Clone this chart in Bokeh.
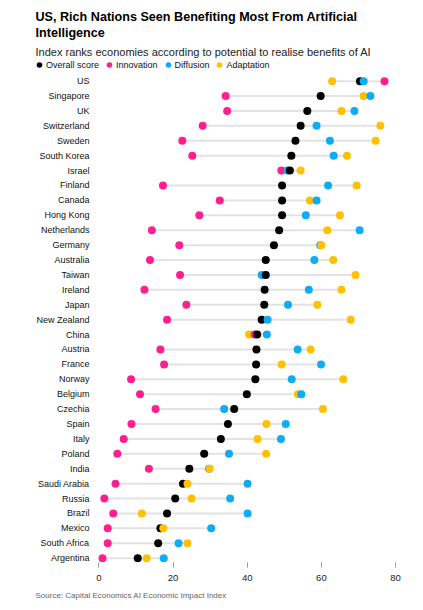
from bokeh.plotting import figure
from bokeh.models import (ColumnDataSource, Range1d, FixedTicker, Legend,
                          LegendItem, Title, Label)
from bokeh.embed import file_html
from bokeh.resources import INLINE

# data (economies sorted by overall score)
countries = ["US", "Singapore", "UK", "Switzerland", "Sweden", "South Korea",
             "Israel", "Finland", "Canada", "Hong Kong", "Netherlands",
             "Germany", "Australia", "Taiwan", "Ireland", "Japan",
             "New Zealand", "China", "Austria", "France", "Norway", "Belgium",
             "Czechia", "Spain", "Italy", "Poland", "India", "Saudi Arabia",
             "Russia", "Brazil", "Mexico", "South Africa", "Argentina"]
overall = [70.4, 59.8, 56.2, 54.4, 53.0, 51.9, 51.5, 49.4, 49.4, 49.4, 48.6,
           47.2, 45.0, 45.0, 44.7, 44.6, 43.9, 42.7, 42.5, 42.4, 42.2, 39.9,
           36.5, 34.8, 32.9, 28.4, 24.4, 22.7, 20.6, 18.4, 16.6, 16.0, 10.5]
innovation = [77.0, 34.2, 34.6, 28.0, 22.5, 25.2, 49.2, 17.3, 32.6, 27.1,
              14.3, 21.7, 13.8, 21.9, 12.3, 23.6, 18.4, 42.0, 16.6, 17.6,
              8.7, 11.1, 15.3, 8.8, 6.7, 5.0, 13.5, 4.5, 1.5, 3.9, 2.4, 2.4,
              1.0]
diffusion = [71.4, 73.2, 68.9, 58.7, 62.3, 63.3, 50.8, 61.8, 58.7, 55.8, 70.3,
             59.7, 58.1, 43.9, 56.6, 51.0, 45.5, 45.3, 53.6, 59.9, 52.0, 54.6,
             33.8, 50.4, 49.1, 35.1, 29.7, 40.1, 35.4, 40.1, 30.3, 21.5, 17.5]
adaptation = [62.9, 71.4, 65.4, 75.9, 74.6, 66.9, 54.4, 69.5, 56.9, 65.0,
              61.6, 60.0, 63.2, 69.2, 65.4, 58.9, 67.9, 40.5, 57.1, 49.3,
              65.9, 53.7, 60.4, 45.2, 42.8, 45.1, 29.9, 23.9, 25.0, 11.6,
              17.4, 23.9, 12.9]
series_names = ["Overall score", "Innovation", "Diffusion", "Adaptation"]
series_colors = ["#000000", "#ff1f8e", "#0eacf5", "#ffc000"]
x_ticks = [0, 20, 40, 60, 80]

n = len(countries)
rows = [n - 1 - i for i in range(n)]
all_series = [overall, innovation, diffusion, adaptation]

# grey range line per economy
lines = ColumnDataSource(data=dict(
    y=rows,
    lo=[min(v) for v in zip(*all_series)],
    hi=[max(v) for v in zip(*all_series)],
))

# all dots in one source, sorted by value so the right-hand dot sits on top
pts = []
for k, vals in enumerate(all_series):
    for i, v in enumerate(vals):
        pts.append((v, rows[i], series_colors[k], k))
pts.sort(key=lambda t: t[0])
dots = ColumnDataSource(data=dict(
    x=[t[0] for t in pts],
    y=[t[1] for t in pts],
    color=[t[2] for t in pts],
))
first_idx = [next(j for j, t in enumerate(pts) if t[3] == k) for k in range(4)]

# the frame runs up to the top of the page so the header sits inside it
p = figure(width=423, height=610, output_backend="svg", toolbar_location=None,
           x_range=Range1d(-18.41, 81.86), y_range=Range1d(-0.29, 37.41),
           min_border_left=30, min_border_right=21, min_border_top=0,
           min_border_bottom=48)
p.outline_line_color = None
p.grid.grid_line_color = None

p.segment(x0="lo", y0="y", x1="hi", y1="y", source=lines,
          line_color="#e3e3e3", line_width=2)
r = p.scatter(x="x", y="y", source=dots, size=8, fill_color="color",
              line_color=None)

# y axis: economy names, pulled in next to the dots
p.yaxis.ticker = FixedTicker(ticks=rows)
p.yaxis.major_label_overrides = {rows[i]: c for i, c in enumerate(countries)}
p.yaxis.axis_line_color = None
p.yaxis.major_tick_line_color = None
p.yaxis.minor_tick_line_color = None
p.yaxis.major_tick_out = 0
p.yaxis.major_tick_in = 0
p.yaxis.major_label_standoff = -59
p.yaxis.major_label_text_font = "Liberation Sans"
p.yaxis.major_label_text_font_size = "9px"
p.yaxis.major_label_text_color = "#111111"

# x axis
p.xaxis.ticker = FixedTicker(ticks=x_ticks)
p.xaxis.axis_line_color = None
p.xaxis.minor_tick_line_color = None
p.xaxis.major_tick_line_color = "#9a9a9a"
p.xaxis.major_tick_in = 0
p.xaxis.major_tick_out = 5
p.xaxis.major_label_standoff = 7
p.xaxis.major_label_text_font = "Liberation Sans"
p.xaxis.major_label_text_font_size = "9.5px"
p.xaxis.major_label_text_color = "#222222"

# header: title, subtitle, legend
p.add_layout(Label(x=5, y=552.7, x_units="screen", y_units="screen",
                   text="US, Rich Nations Seen Benefiting Most From Artificial\nIntelligence",
                   text_font="Liberation Sans", text_font_size="12.6px",
                   text_font_style="bold", text_color="#000000",
                   text_baseline="top", text_line_height=1.19))
p.add_layout(Label(x=5, y=510.3, x_units="screen", y_units="screen",
                   text="Index ranks economies according to potential to realise benefits of AI",
                   text_font="Liberation Sans", text_font_size="11px",
                   text_color="#222222", text_baseline="alphabetic"))

legend = Legend(items=[LegendItem(label=series_names[k], renderers=[r],
                                  index=first_idx[k]) for k in range(4)],
                orientation="horizontal", location=(2, 489.8),
                glyph_width=14, glyph_height=15, label_standoff=0, spacing=3,
                padding=0, margin=0, border_line_color=None,
                background_fill_alpha=0,
                label_text_font="Liberation Sans", label_text_font_size="9px",
                label_text_color="#111111", label_height=15)
p.add_layout(legend)

src = Title(text="Source: Capital Economics AI Economic Impact Index",
            text_font="Liberation Sans", text_font_size="8px",
            text_font_style="normal", text_color="#666666", offset=5,
            standoff=11)
p.add_layout(src, "below")

open("out.html", "w").write(file_html(p, INLINE))
